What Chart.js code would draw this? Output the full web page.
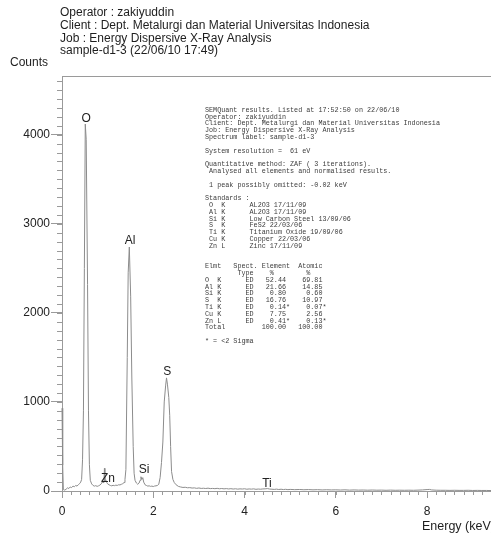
<!DOCTYPE html>
<html>
<head>
<meta charset="utf-8">
<script src="https://cdn.jsdelivr.net/npm/chart.js@4.4.1/dist/chart.umd.min.js"></script>
<style>
  html, body { margin: 0; padding: 0; background: #ffffff; }
  #wrap { width: 491px; height: 540px; position: relative; }
</style>
</head>
<body>
<div id="wrap"><canvas id="spectrum" width="491" height="540"></canvas></div>
<script>
// EDS spectrum of sample-d1-3: energy (keV) and counts per channel
const energy = [
  0.00, 0.015, 0.03, 0.06, 0.09, 0.12, 0.15, 0.18, 0.21, 0.24, 0.27, 0.30, 0.33, 0.36, 0.39, 0.41,
  0.43, 0.45, 0.47, 0.49, 0.51, 0.53, 0.56, 0.58, 0.60, 0.62, 0.65, 0.68, 0.71, 0.74, 0.77, 0.80,
  0.83, 0.86, 0.88, 0.90, 0.92, 0.93, 0.94, 0.96, 0.98, 1.00, 1.03, 1.06, 1.09, 1.12, 1.15, 1.18,
  1.21, 1.24, 1.27, 1.30, 1.33, 1.36, 1.38, 1.40, 1.43, 1.45, 1.475, 1.505, 1.53, 1.56, 1.58, 1.60,
  1.63, 1.66, 1.69, 1.71, 1.73, 1.75, 1.77, 1.79, 1.82, 1.85, 1.88, 1.91, 1.94, 1.97, 2.00, 2.03,
  2.06, 2.09, 2.12, 2.15, 2.18, 2.21, 2.24, 2.27, 2.29, 2.31, 2.34, 2.36, 2.38, 2.40, 2.43, 2.46,
  2.50, 2.55, 2.60, 2.65, 2.70, 2.75, 2.80, 2.85, 2.90, 2.95, 3.00, 3.05, 3.10, 3.15, 3.20, 3.25,
  3.30, 3.35, 3.40, 3.45, 3.50, 3.55, 3.60, 3.65, 3.70, 3.75, 3.80, 3.85, 3.90, 3.95, 4.00, 4.05,
  4.10, 4.15, 4.20, 4.25, 4.30, 4.35, 4.40, 4.45, 4.50, 4.55, 4.60, 4.65, 4.70, 4.75, 4.80, 4.85,
  4.90, 4.95, 5.00, 5.10, 5.20, 5.30, 5.40, 5.50, 5.60, 5.70, 5.80, 5.90, 6.00, 6.10, 6.20, 6.30,
  6.40, 6.50, 6.60, 6.70, 6.80, 6.90, 7.00, 7.10, 7.20, 7.30, 7.40, 7.50, 7.60, 7.70, 7.80, 7.90,
  8.00, 8.05, 8.10, 8.20, 8.30, 8.40, 8.50, 8.60, 8.70, 8.80, 8.90, 9.00, 9.10, 9.20, 9.30, 9.40
];
const counts = [
  930, 290, 15, 10, 20, 35, 28, 45, 38, 55, 48, 62, 55, 72, 85, 100,
  130, 350, 900, 2500, 4120, 3950, 2320, 900, 300, 120, 80, 62, 55, 60, 52, 58,
  66, 80, 100, 95, 120, 255, 110, 125, 95, 80, 70, 62, 58, 64, 60, 66,
  62, 70, 68, 75, 82, 95, 130, 240, 1500, 2450, 2740, 2180, 1280, 500, 200, 120,
  90, 75, 90, 120, 160, 130, 150, 100, 70, 62, 55, 58, 52, 55, 50, 56,
  58, 62, 75, 150, 320, 550, 1000, 1180, 1270, 1200, 1050, 850, 500, 220, 130, 95,
  70, 52, 45, 40, 42, 36, 38, 33, 35, 30, 34, 29, 31, 28, 32, 27,
  29, 26, 30, 25, 28, 24, 27, 23, 26, 22, 25, 21, 24, 22, 25, 20,
  23, 21, 24, 19, 22, 20, 23, 24, 27, 22, 20, 18, 21, 17, 20, 16,
  19, 15, 18, 15, 17, 14, 16, 13, 15, 12, 14, 12, 13, 11, 13, 10,
  12, 10, 11, 9, 11, 9, 10, 8, 10, 8, 9, 8, 9, 8, 10, 12,
  16, 18, 12, 9, 8, 8, 7, 8, 7, 7, 8, 6, 7, 6, 6, 5
];

// Peak identifications: label text, energy (keV) and the count level the label is centred on
const peakNames = ['O', 'Al', 'S', 'Zn', 'Si', 'Ti'];
const peakEnergy = [0.53, 1.49, 2.305, 1.008, 1.80, 4.49];
const peakLabelCounts = [4180, 2810, 1340, 137, 242, 81];

// Axis ticks
const xTicks = [0, 2, 4, 6, 8];
const yTicks = [0, 1000, 2000, 3000, 4000];
const xMinorStep = 0.2;
const yMinorStep = 100;
const xMax = 9.4;
const yMax = 4660;

// Header lines above the plot
const headerLines = [
  'Operator : zakiyuddin',
  'Client : Dept. Metalurgi dan Material Universitas Indonesia',
  'Job : Energy Dispersive X-Ray Analysis',
  'sample-d1-3 (22/06/10 17:49)'
];

// Quantification report printed inside the plot
const quantRows = [
  ['O  K', '52.44', '', '69.81', ''],
  ['Al K', '21.66', '', '14.85', ''],
  ['Si K', '0.80', '', '0.60', ''],
  ['S  K', '16.76', '', '10.97', ''],
  ['Ti K', '0.14', '*', '0.07', '*'],
  ['Cu K', '7.75', '', '2.56', ''],
  ['Zn L', '0.41', '*', '0.13', '*']
];
const standards = [
  [' O  K', 'AL2O3 17/11/09'],
  [' Al K', 'AL2O3 17/11/09'],
  [' Si K', 'Low Carbon Steel 13/09/06'],
  [' S  K', 'FeS2 22/03/06'],
  [' Ti K', 'Titanium Oxide 19/09/06'],
  [' Cu K', 'Copper 22/03/06'],
  [' Zn L', 'Zinc 17/11/09']
];

function buildReport() {
  const lines = [
    'SEMQuant results. Listed at 17:52:50 on 22/06/10',
    'Operator: zakiyuddin',
    'Client: Dept. Metalurgi dan Material Universitas Indonesia',
    'Job: Energy Dispersive X-Ray Analysis',
    'Spectrum label: sample-d1-3',
    '',
    'System resolution =  61 eV',
    '',
    'Quantitative method: ZAF ( 3 iterations).',
    ' Analysed all elements and normalised results.',
    '',
    ' 1 peak possibly omitted: -0.02 keV',
    '',
    'Standards :'
  ];
  standards.forEach(s => lines.push(s[0].padEnd(11) + s[1]));
  lines.push('', '');
  lines.push('Elmt   Spect. Element  Atomic');
  lines.push('        Type    %        %');
  quantRows.forEach(r => {
    const el = r[1].padStart(8) + (r[2] || ' ');
    const at = r[3].padStart(8) + r[4];
    lines.push(r[0].padEnd(10) + 'ED' + el + at);
  });
  lines.push('Total'.padEnd(12) + '100.00'.padStart(8) + ' ' + '100.00'.padStart(8));
  lines.push('');
  lines.push('* = <2 Sigma');
  return lines;
}
const reportLines = buildReport();

const AXIS_GREY = '#9a9a9a';
const FONT = '"Liberation Sans", Arial, sans-serif';

const decor = {
  id: 'decor',
  afterDraw(chart) {
    const ctx = chart.ctx;
    const xs = chart.scales.x, ys = chart.scales.y;
    const a = chart.chartArea;
    ctx.save();

    // frame top edge
    ctx.strokeStyle = AXIS_GREY;
    ctx.lineWidth = 1;
    ctx.beginPath();
    ctx.moveTo(a.left, a.top + 0.5);
    ctx.lineTo(a.right, a.top + 0.5);
    ctx.stroke();

    // minor ticks
    ctx.beginPath();
    for (let v = 0; v <= xMax + 1e-9; v += xMinorStep) {
      const px = Math.round(xs.getPixelForValue(v)) + 0.5;
      ctx.moveTo(px, a.bottom);
      ctx.lineTo(px, a.bottom + 4);
    }
    for (let v = 0; v <= yMax + 1e-9; v += yMinorStep) {
      const py = Math.round(ys.getPixelForValue(v)) + 0.5;
      ctx.moveTo(a.left - 5, py);
      ctx.lineTo(a.left, py);
    }
    ctx.stroke();

    // peak labels
    ctx.fillStyle = '#222';
    ctx.font = '12px ' + FONT;
    ctx.textAlign = 'center';
    ctx.textBaseline = 'middle';
    peakNames.forEach((n, i) => {
      ctx.fillText(n, xs.getPixelForValue(peakEnergy[i]), ys.getPixelForValue(peakLabelCounts[i]));
    });

    // header and axis captions
    ctx.textAlign = 'left';
    ctx.fillStyle = '#1e1e1e';
    headerLines.forEach((t, i) => ctx.fillText(t, a.left - 2, 13 + i * 12.7));
    ctx.fillText('Counts', 10, 63);
    ctx.font = '12.5px ' + FONT;
    ctx.fillText('Energy (keV)', a.left + 360, 527);

    // printed quantification report
    ctx.fillStyle = '#3c3c3c';
    ctx.font = '6.75px "Liberation Mono", "DejaVu Sans Mono", monospace';
    ctx.filter = 'blur(0.4px)';
    reportLines.forEach((t, i) => {
      if (t) ctx.fillText(t, a.left + 143, a.top + 34 + i * 6.8);
    });
    ctx.filter = 'none';
    ctx.restore();
  }
};

new Chart(document.getElementById('spectrum'), {
  type: 'line',
  data: {
    datasets: [{
      data: energy.map((e, i) => ({ x: e, y: counts[i] })),
      borderColor: '#8c8c8c',
      borderWidth: 1,
      pointRadius: 0,
      tension: 0,
      fill: false,
      clip: 6
    }]
  },
  options: {
    responsive: false,
    animation: false,
    devicePixelRatio: 1,
    layout: { padding: { top: 76, left: 0, right: 0, bottom: 0 } },
    plugins: { legend: { display: false }, tooltip: { enabled: false } },
    scales: {
      x: {
        type: 'linear',
        min: 0,
        max: xMax,
        afterFit(s) { s.height = 49; },
        afterBuildTicks(s) { s.ticks = xTicks.map(v => ({ value: v })); },
        border: { color: AXIS_GREY, width: 1 },
        grid: { drawOnChartArea: false, drawTicks: true, tickLength: 7, color: AXIS_GREY },
        ticks: { color: '#222', padding: 6, maxRotation: 0, callback: v => String(v), font: { family: FONT, size: 12 } }
      },
      y: {
        type: 'linear',
        min: 0,
        max: yMax,
        afterFit(s) { s.width = 62; },
        afterBuildTicks(s) { s.ticks = yTicks.map(v => ({ value: v })); },
        border: { color: AXIS_GREY, width: 1 },
        grid: { drawOnChartArea: false, drawTicks: true, tickLength: 11, color: AXIS_GREY },
        ticks: { color: '#222', padding: 1, callback: v => String(v), font: { family: FONT, size: 12 } }
      }
    }
  },
  plugins: [decor]
});
</script>
</body>
</html>
